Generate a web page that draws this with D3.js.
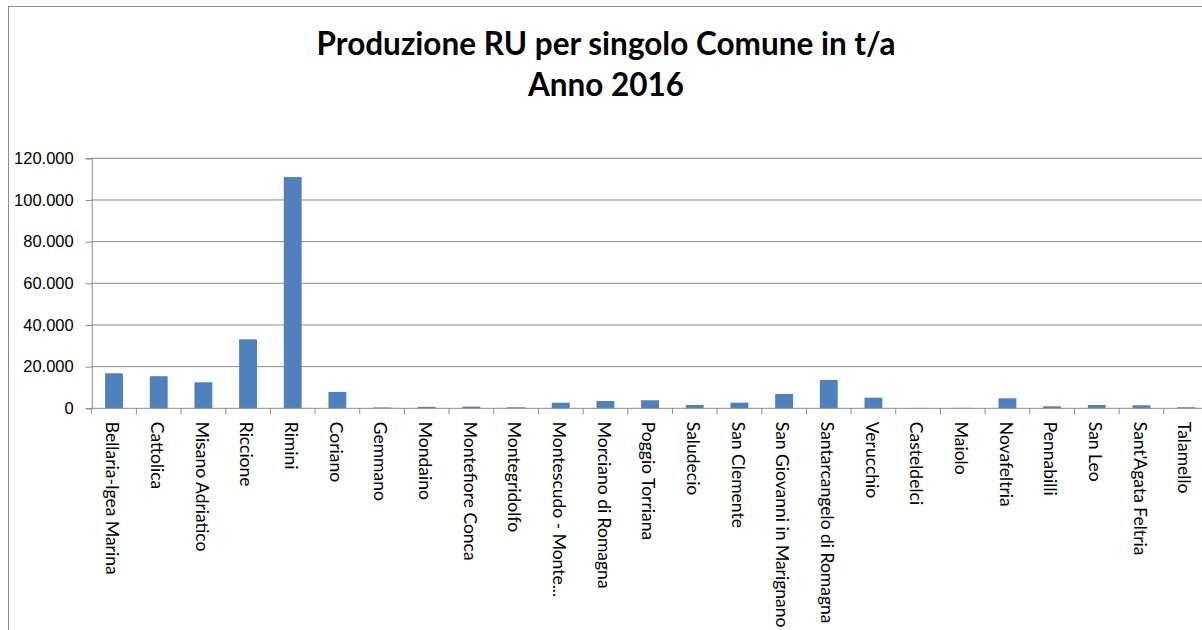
<!DOCTYPE html>
<html>
<head>
<meta charset="utf-8">
<script src="https://cdn.jsdelivr.net/npm/d3@7"></script>
<style>
  body { margin: 0; background: #fff; }
  svg { display: block; font-family: Lato, "Open Sans", sans-serif; }
  .axis path, .axis line { stroke: #898989; }
  .grid line { stroke: #898989; }
</style>
</head>
<body>
<svg width="1202" height="630"></svg>
<script>
// data (t/a)
var comuni = ["Bellaria-Igea Marina", "Cattolica", "Misano Adriatico", "Riccione", "Rimini",
  "Coriano", "Gemmano", "Mondaino", "Montefiore Conca", "Montegridolfo",
  "Montescudo - Monte...", "Morciano di Romagna", "Poggio Torriana", "Saludecio", "San Clemente",
  "San Giovanni in Marignano", "Santarcangelo di Romagna", "Verucchio", "Casteldelci", "Maiolo",
  "Novafeltria", "Pennabilli", "San Leo", "Sant'Agata Feltria", "Talamello"];
var produzione = [16800, 15400, 12500, 33100, 111000,
  7850, 400, 700, 800, 500,
  2700, 3500, 3850, 1600, 2700,
  6900, 13600, 5100, 150, 200,
  4800, 950, 1600, 1450, 500];
var yTicks = [0, 20000, 40000, 60000, 80000, 100000, 120000];
var titolo = ["Produzione RU per singolo Comune in t/a", "Anno 2016"];

var svg = d3.select("svg"),
    margin = {top: 158.3, left: 91.7},
    step = 44.67,
    width = step * comuni.length,
    height = 250;

var it = d3.formatLocale({decimal: ",", thousands: ".", grouping: [3], currency: ["", "€"]});
var fmt = it.format(",");

// chart border (runs off the right and bottom edges like the original)
svg.append("rect")
    .attr("x", 8.5).attr("y", 6.5)
    .attr("width", 1205).attr("height", 640)
    .attr("fill", "none")
    .attr("stroke", "#8c8c8c");

svg.append("text")
    .attr("x", 606).attr("y", 54.5)
    .attr("text-anchor", "middle")
    .style("font-weight", "bold").style("font-size", "31.5px")
    .selectAll("tspan").data(titolo).enter().append("tspan")
    .attr("x", 606)
    .attr("dy", function(d, i) { return i ? 41 : 0; })
    .text(function(d) { return d; });

var g = svg.append("g").attr("transform", "translate(" + margin.left + "," + margin.top + ")");

var x = d3.scaleBand()
    .domain(comuni)
    .range([0, width])
    .paddingInner(0.6)
    .paddingOuter(0.3);

var y = d3.scaleLinear()
    .domain([0, 120000])
    .range([height, 0]);

g.append("g")
    .attr("class", "grid")
  .selectAll("line").data(yTicks.slice(1)).enter().append("line")
    .attr("x1", 0).attr("x2", width)
    .attr("y1", function(d) { return y(d); })
    .attr("y2", function(d) { return y(d); });

g.selectAll(".bar")
    .data(produzione)
  .enter().append("rect")
    .attr("class", "bar")
    .attr("x", function(d, i) { return x(comuni[i]); })
    .attr("width", x.bandwidth())
    .attr("y", function(d) { return y(d); })
    .attr("height", function(d) { return height - y(d); })
    .attr("fill", "#4f81bd");

var yAxis = g.append("g")
    .attr("class", "axis axis--y")
    .call(d3.axisLeft(y).tickValues(yTicks).tickSize(6).tickPadding(12).tickFormat(fmt));
yAxis.selectAll("text").style("font-size", "16.5px").attr("fill", "#000");

// x axis: ticks between categories
var xAxis = g.append("g")
    .attr("class", "axis axis--x")
    .attr("transform", "translate(0," + height + ")");
xAxis.append("line").attr("x1", 0).attr("x2", width);
xAxis.selectAll(".sep").data(d3.range(comuni.length + 1)).enter().append("line")
    .attr("x1", function(d) { return d * step; })
    .attr("x2", function(d) { return d * step; })
    .attr("y1", 0).attr("y2", 6);
xAxis.selectAll(".lbl").data(comuni).enter().append("text")
    .attr("transform", function(d) {
      return "translate(" + (x(d) + x.bandwidth() / 2 - 1.5) + ",13.5) rotate(90)";
    })
    .attr("dy", "0.35em")
    .style("font-size", "17.5px")
    .attr("fill", "#000")
    .text(function(d) { return d; });
</script>
</body>
</html>
